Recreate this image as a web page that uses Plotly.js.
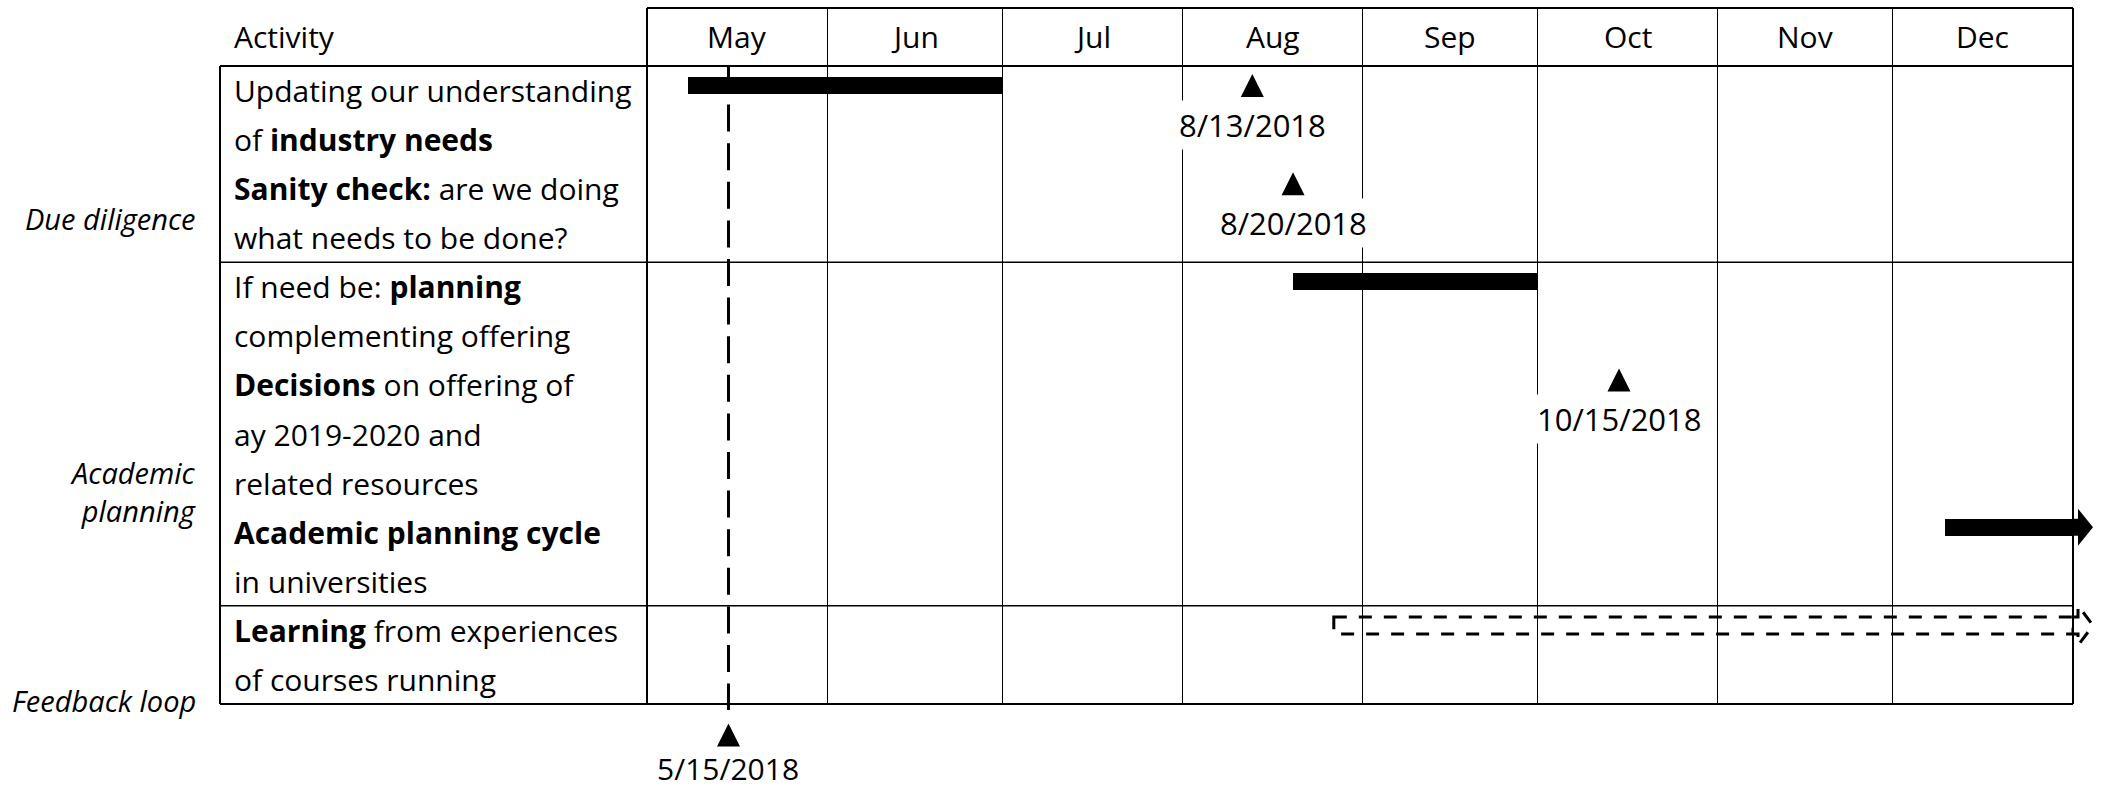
<!DOCTYPE html>
<html><head><meta charset="utf-8">
<script src="https://cdn.plot.ly/plotly-3.0.1.min.js"></script>
<style>html,body{margin:0;padding:0;background:#fff}</style>
</head><body><div id="chart" style="width:2104px;height:788px"></div>
<script>
// ---------- data ----------
const months = ['May','Jun','Jul','Aug','Sep','Oct','Nov','Dec'];
const monthStarts = ['2018-05-01','2018-06-01','2018-07-01','2018-08-01','2018-09-01','2018-10-01','2018-11-01','2018-12-01','2019-01-01'];

const groupNames = ['Due diligence', 'Academic<br>planning', 'Feedback loop'];
const groupLabelRow = [3.1, 8.68, 12.92];
const groupEndRow = [4, 11, 13];

const textLines = [
  'Updating our understanding',
  'of <b>industry needs</b>',
  '<b>Sanity check:</b> are we doing',
  'what needs to be done?',
  'If need be: <b>planning</b>',
  'complementing offering',
  '<b>Decisions</b> on offering of',
  'ay 2019-2020 and',
  'related resources',
  '<b>Academic planning cycle</b>',
  'in universities',
  '<b>Learning</b> from experiences',
  'of courses running'
];

const activityRow = [0, 2, 4, 6, 9, 11];
const barStart = ['2018-05-08', null, '2018-08-20', null, '2018-12-10', '2018-08-27'];
const barEnd   = ['2018-07-01', null, '2018-10-01', null, '2019-01-01', '2019-01-01'];
const barStyle = ['solid', null, 'solid', null, 'arrow', 'dashedArrow'];

const milestoneDate  = ['2018-08-13', '2018-08-20', '2018-10-15'];
const milestoneLabel = ['8/13/2018', '8/20/2018', '10/15/2018'];
const milestoneRow   = [0, 2, 6];

const todayDate = '2018-05-15';
const todayLabel = '5/15/2018';

// ---------- layout constants ----------
const W = 2104, H = 788;
const M = {l: 647, r: 31, t: 8, b: 84};
const plotW = W - M.l - M.r;
const plotH = H - M.t - M.b;
const headerRows = 1.18;
const nRows = 13;
const tableLeftPx = 220, textLeftPx = 233, groupRightPx = 198;
const tableLeftPaper = (tableLeftPx - M.l) / plotW;
const pyToPaper = px => (H - M.b - px) / plotH;
const barOffset = 0.4, barWidth = 0.345, labelOffset = 1.2;
const FONT = 'Open Sans, Noto Sans, DejaVu Sans, sans-serif';
const TXT = '#000';

// ---------- traces ----------
const solidIdx = barStyle.map((s, i) => (s === 'solid' || s === 'arrow') ? i : -1).filter(i => i >= 0);
const traces = [{
  type: 'bar', orientation: 'h',
  base: solidIdx.map(i => barStart[i]),
  x: solidIdx.map(i => Date.parse(barEnd[i]) - Date.parse(barStart[i])),
  y: solidIdx.map(i => activityRow[i] + barOffset),
  width: solidIdx.map(() => barWidth),
  marker: {color: '#000', line: {width: 0}},
  hoverinfo: 'skip', showlegend: false
}];

// ---------- shapes ----------
const shapes = [];
const blk = '#000';
shapes.push({type: 'line', xref: 'paper', yref: 'paper', x0: 0, x1: 1, y0: 1, y1: 1, line: {color: blk, width: 2}});
shapes.push({type: 'line', xref: 'paper', yref: 'paper', x0: 0, x1: 0, y0: 0, y1: 1, line: {color: blk, width: 2}});
shapes.push({type: 'line', xref: 'paper', yref: 'paper', x0: 1, x1: 1, y0: 0, y1: 1, line: {color: blk, width: 2}});
shapes.push({type: 'line', xref: 'paper', yref: 'y', x0: tableLeftPaper, x1: 1, y0: 0, y1: 0, line: {color: blk, width: 2}});
shapes.push({type: 'line', xref: 'paper', yref: 'paper', x0: tableLeftPaper, x1: tableLeftPaper, y0: 0, y1: pyToPaper(66), line: {color: blk, width: 2}});
groupEndRow.forEach((r) => {
  if (r >= nRows) {
    shapes.push({type: 'line', xref: 'paper', yref: 'paper', x0: tableLeftPaper, x1: 1, y0: 0, y1: 0, line: {color: blk, width: 2}});
  } else {
    shapes.push({type: 'line', xref: 'paper', yref: 'y', x0: tableLeftPaper, x1: 1, y0: r, y1: r, line: {color: blk, width: 1.5}});
  }
});

barStyle.forEach((s, i) => {
  const yc = activityRow[i] + barOffset;
  if (s === 'arrow') {
    shapes.push({type: 'path', xref: 'paper', yref: 'y', xsizemode: 'pixel', ysizemode: 'pixel',
      xanchor: 1, yanchor: yc,
      path: 'M-1,8.5 L5,8.5 L5,18.5 L20,0 L5,-18.5 L5,-8.5 L-1,-8.5 Z',
      fillcolor: blk, line: {width: 0}});
  } else if (s === 'dashedArrow') {
    shapes.push({type: 'rect', xref: 'x', yref: 'y', x0: barStart[i], x1: barEnd[i],
      y0: yc - barWidth / 2, y1: yc + barWidth / 2,
      line: {color: blk, width: 3, dash: '13px,12px'}});
    shapes.push({type: 'path', xref: 'paper', yref: 'y', xsizemode: 'pixel', ysizemode: 'pixel',
      xanchor: 1, yanchor: yc,
      path: 'M0,8.5 L5,8.5 L5,20 L20,0 L5,-20 L5,-8.5 L0,-8.5',
      line: {color: blk, width: 3, dash: '13px,12px'}});
  }
});

const tri = 'M-11.5,-11.5 L11.5,-11.5 L0,11.5 Z';
milestoneDate.forEach((d, i) => {
  shapes.push({type: 'path', xref: 'x', yref: 'y', xsizemode: 'pixel', ysizemode: 'pixel',
    xanchor: d, yanchor: milestoneRow[i] + barOffset, path: tri, fillcolor: blk, line: {width: 0}});
});

shapes.push({type: 'line', xref: 'x', yref: 'paper', x0: todayDate, x1: todayDate,
  y0: pyToPaper(66), y1: pyToPaper(710), line: {color: blk, width: 3, dash: '27px,11.6px'}});
shapes.push({type: 'path', xref: 'x', yref: 'paper', xsizemode: 'pixel', ysizemode: 'pixel',
  xanchor: todayDate, yanchor: 0, path: 'M-11.5,-42.5 L11.5,-42.5 L0,-19.5 Z', fillcolor: blk, line: {width: 0}});

// ---------- annotations ----------
const ann = [];
const baseFont = {family: FONT, size: 30, color: TXT};
months.forEach((m, i) => {
  const mid = new Date((Date.parse(monthStarts[i]) + Date.parse(monthStarts[i + 1])) / 2).toISOString().slice(0, 19).replace('T', ' ');
  ann.push({xref: 'x', yref: 'y', x: mid, y: -headerRows / 2, text: m, showarrow: false,
    xanchor: 'center', yanchor: 'middle', font: baseFont});
});
ann.push({xref: 'paper', yref: 'y', x: 0, xshift: textLeftPx - M.l - 1, y: -headerRows / 2, text: 'Activity',
  showarrow: false, xanchor: 'left', yanchor: 'middle', font: baseFont});
textLines.forEach((t, i) => {
  ann.push({xref: 'paper', yref: 'y', x: 0, xshift: textLeftPx - M.l - 1, y: i + 0.5, text: t,
    showarrow: false, xanchor: 'left', yanchor: 'middle', align: 'left', font: baseFont});
});
groupNames.forEach((g, i) => {
  ann.push({xref: 'paper', yref: 'y', x: 0, xshift: groupRightPx - M.l, y: groupLabelRow[i], text: g,
    showarrow: false, xanchor: 'right', yanchor: 'middle', align: 'right',
    font: {family: FONT, size: 29, color: TXT, style: 'italic'}});
});
milestoneDate.forEach((d, i) => {
  ann.push({xref: 'x', yref: 'y', x: d, y: milestoneRow[i] + labelOffset, text: milestoneLabel[i],
    showarrow: false, xanchor: 'center', yanchor: 'middle', bgcolor: '#fff', borderpad: 3,
    font: {family: FONT, size: 31, color: TXT}});
});
ann.push({xref: 'x', yref: 'paper', x: todayDate, y: 0, yshift: -64, text: todayLabel,
  showarrow: false, xanchor: 'center', yanchor: 'middle', borderpad: 0,
  font: {family: FONT, size: 30, color: TXT}});

const layout = {
  width: W, height: H, margin: M,
  paper_bgcolor: '#fff', plot_bgcolor: '#fff',
  showlegend: false,
  xaxis: {type: 'date', range: [monthStarts[0], monthStarts[monthStarts.length - 1]],
    tick0: monthStarts[0], dtick: 'M1', showgrid: true, gridcolor: '#000', gridwidth: 1,
    showticklabels: false, ticks: '', zeroline: false, showline: false, fixedrange: true},
  yaxis: {range: [nRows, -headerRows], showgrid: false, showticklabels: false, ticks: '',
    zeroline: false, showline: false, fixedrange: true},
  shapes: shapes,
  annotations: ann,
  bargap: 0
};

Plotly.newPlot('chart', traces, layout, {staticPlot: true, displayModeBar: false});
</script>
</body></html>
